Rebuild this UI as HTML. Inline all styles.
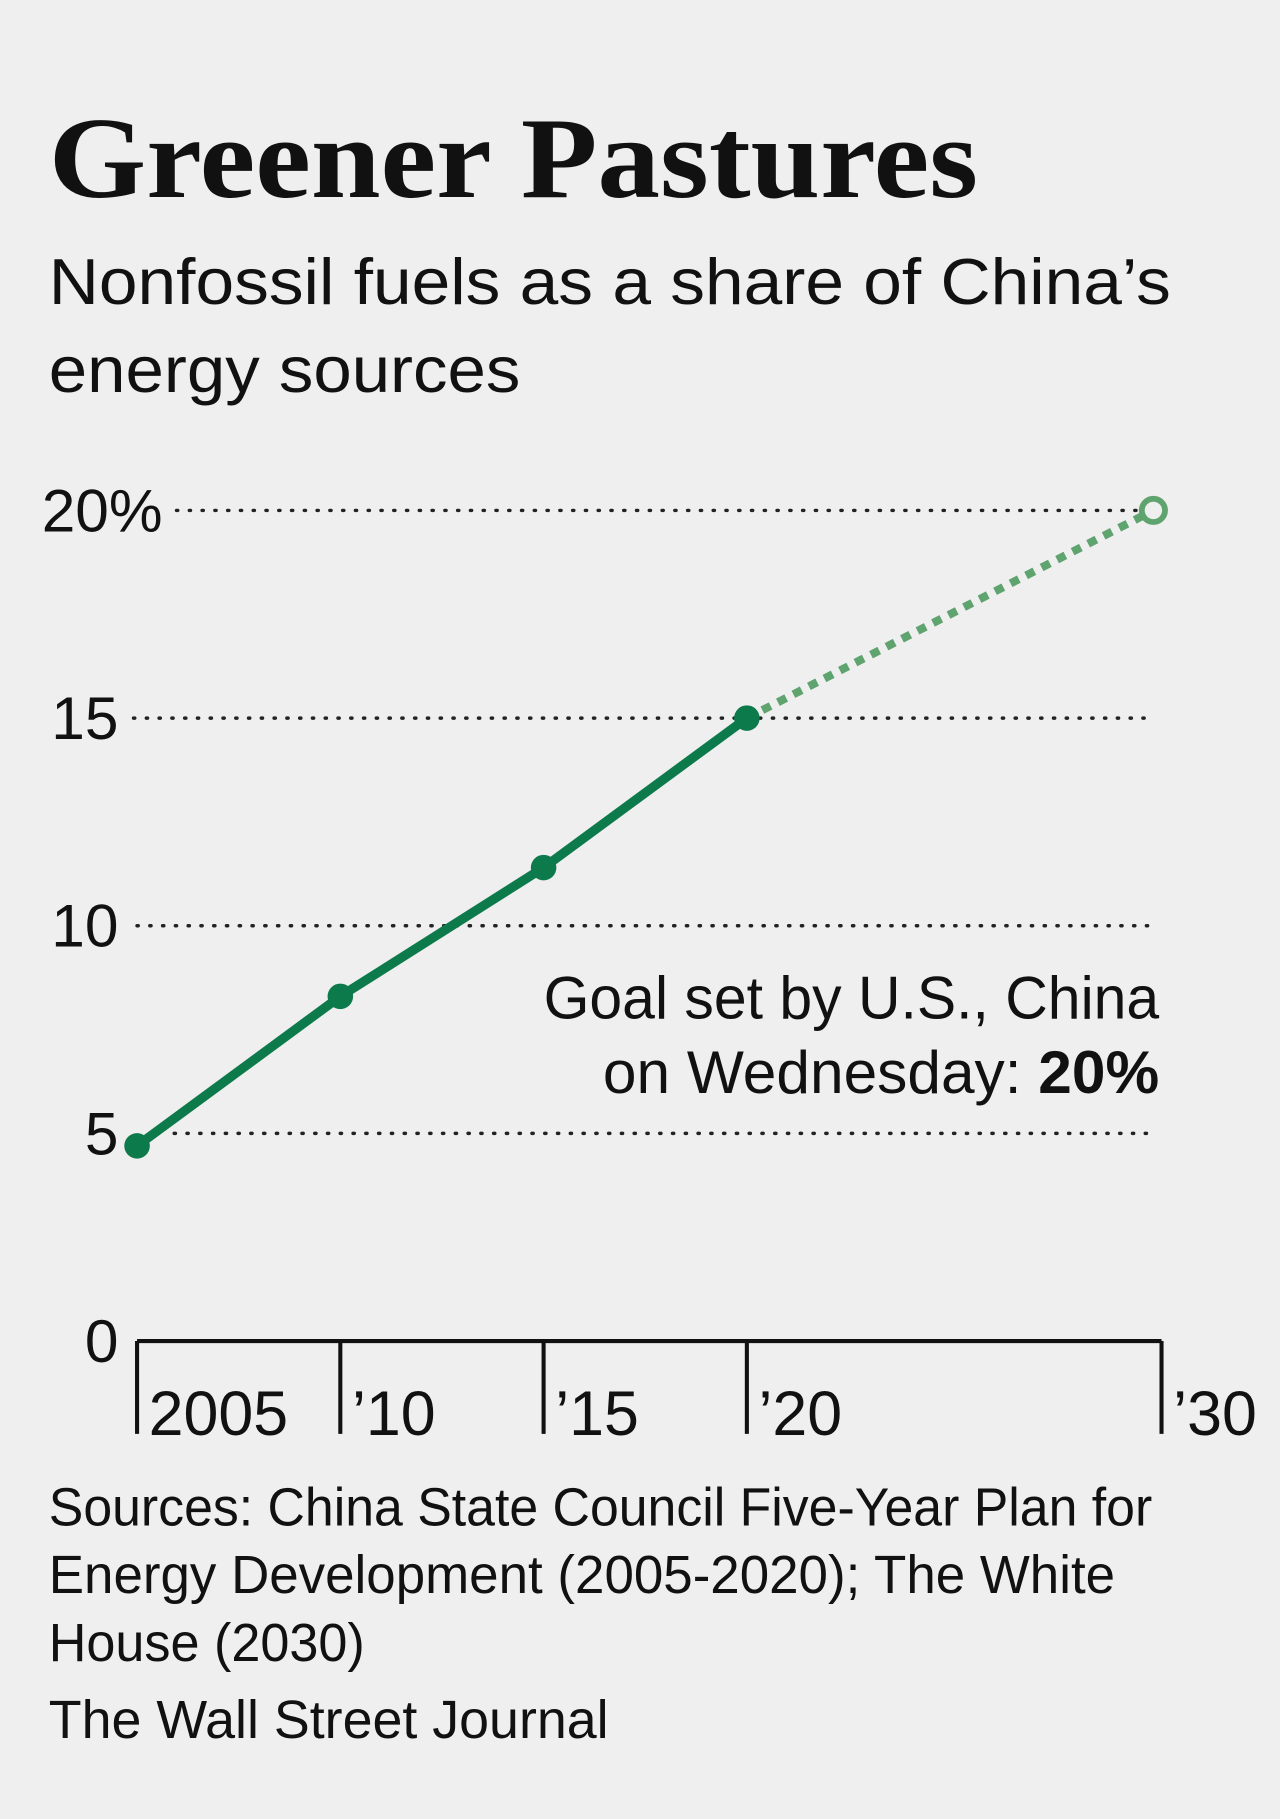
<!DOCTYPE html>
<html><head><meta charset="utf-8"><style>
html,body{margin:0;padding:0;background:#efefef;}
svg{display:block;}
text{font-family:"Liberation Sans",sans-serif;fill:#111;}
</style></head><body>
<svg width="1280" height="1819" viewBox="0 0 1102 1568" preserveAspectRatio="none" xmlns="http://www.w3.org/2000/svg">
<rect x="0" y="0" width="1102" height="1568" fill="#efefef"/>
<text x="42" y="170" style="font-family:'Liberation Serif',serif;font-weight:bold" font-size="100" textLength="800" lengthAdjust="spacingAndGlyphs">Greener Pastures</text>
<text x="42" y="262" font-size="56" textLength="966" lengthAdjust="spacingAndGlyphs">Nonfossil fuels as a share of China’s</text>
<text x="42" y="338" font-size="56" textLength="406" lengthAdjust="spacingAndGlyphs">energy sources</text>
<g id="grid"></g>
<g id="yticks"></g>
<g id="xaxis"></g>
<g id="series"></g>
<text x="998" y="878" font-size="52" text-anchor="end" textLength="530" lengthAdjust="spacingAndGlyphs">Goal set by U.S., China</text>
<text x="998" y="942" font-size="52" text-anchor="end">on Wednesday: <tspan font-weight="bold">20%</tspan></text>
<text x="42" y="1315" font-size="46" textLength="950" lengthAdjust="spacingAndGlyphs">Sources: China State Council Five-Year Plan for</text>
<text x="42" y="1373" font-size="46" textLength="918" lengthAdjust="spacingAndGlyphs">Energy Development (2005-2020); The White</text>
<text x="42" y="1432" font-size="46" textLength="272" lengthAdjust="spacingAndGlyphs">House (2030)</text>
<text x="42" y="1498" font-size="46" textLength="482" lengthAdjust="spacingAndGlyphs">The Wall Street Journal</text>
</svg>
<script>
const years=[2005,2010,2015,2020];
const values=[4.7,8.3,11.4,15];
const goalYear=2030;
const goalValue=20;
const yTicks=[0,5,10,15,20];
const yTickLabels=["0","5","10","15","20%"];
const xTicks=[2005,2010,2015,2020,2030];
const xTickLabels=["2005","’10","’15","’20","’30"];
const NS="http://www.w3.org/2000/svg";
function xs(yr){return 118+(yr-2005)*35;}
function ys(v){return 1156-v*35.8;}
function gridStart(t){return t===20?152:(t===5?150:(t===15?115:118));}
function mk(tag,attrs,parent,txt){const e=document.createElementNS(NS,tag);for(const k in attrs)e.setAttribute(k,attrs[k]);if(txt!==undefined)e.textContent=txt;document.getElementById(parent).appendChild(e);return e;}
yTicks.forEach((t,i)=>{
  const lbl=yTickLabels[i];
  if(t>0){
    const g=mk('line',{x1:gridStart(t),x2:988,y1:ys(t),y2:ys(t),stroke:'#222','stroke-width':3,'stroke-dasharray':'1 10','stroke-linecap':'round'},'grid');
    
    
  }
  const tx=mk('text',{x:t===20?140:102,y:ys(t)+18,'font-size':52,'text-anchor':'end'},'yticks',lbl);
  
  
});
const ax=mk('line',{x1:118,x2:1000,y1:ys(0),y2:ys(0),stroke:'#111','stroke-width':3.5},'xaxis');


xTicks.forEach((yr,i)=>{
  const x=yr===2030?1000:xs(yr);
  const tk=mk('line',{x1:x,x2:x,y1:ys(0),y2:1236,stroke:'#111','stroke-width':3.5},'xaxis');
  
  
  const tl=mk('text',{x:x+10,y:1237,'font-size':54},'xaxis',xTickLabels[i]);
  
  
});
const last=years.length-1;
const proj=mk('line',{x1:xs(years[last]),y1:ys(values[last]),x2:xs(goalYear),y2:ys(goalValue),stroke:'#5fa36f','stroke-width':7,'stroke-dasharray':'8 7'},'series');


const pts=years.map((y,i)=>xs(y)+','+ys(values[i])).join(' ');
const pl=mk('polyline',{points:pts,fill:'none',stroke:'#0d7a4b','stroke-width':8,'stroke-linejoin':'round'},'series');


years.forEach((y,i)=>{
  const c=mk('circle',{cx:xs(y),cy:ys(values[i]),r:11,fill:'#0d7a4b'},'series');
  
  
});
const gc=mk('circle',{cx:xs(goalYear),cy:ys(goalValue),r:10,fill:'#efefef',stroke:'#5fa36f','stroke-width':5},'series');


</script>
</body></html>
